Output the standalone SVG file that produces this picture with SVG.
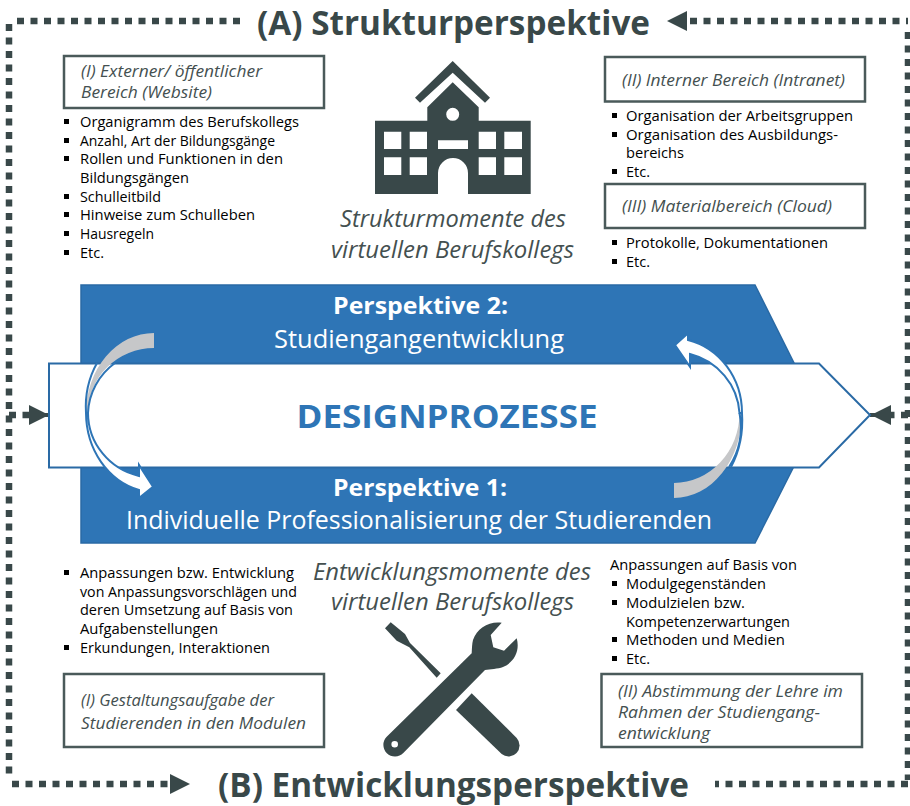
<svg xmlns="http://www.w3.org/2000/svg" width="910" height="806" viewBox="0 0 910 806">
<style>
text{font-family:"Open Sans","Noto Sans","Liberation Sans",sans-serif}
.t{font-size:34px;font-weight:700;fill:#394849}
.b{font-size:14.5px;fill:#000}
.i{font-size:16.5px;font-style:italic;fill:#445050}
.m{font-size:23px;font-style:italic;fill:#445050}
.w{font-size:23px;font-weight:700;fill:#fff}
.r{font-size:25.5px;fill:#fff}
.box{fill:#fff;stroke:#4a5a5a;stroke-width:2.5}
.d{fill:none;stroke:#394849;stroke-width:6.5;stroke-dasharray:7 6.5}
.h{fill:#394849}
.sq{fill:#000}
</style>
<g id="connectors">
<path class="d" d="M240 21H12"/>
<path class="d" d="M9 24V780"/>
<path class="d" d="M12 784H172"/>
<path class="d" d="M690 21H908"/>
<path class="d" d="M908 32V780"/>
<path class="d" d="M908 784H715"/>
<path class="h" d="M667 21L687 11V31Z"/>
<path class="h" d="M190 784L170 774V794Z"/>
<path class="d" d="M9 415H30"/>
<path class="h" d="M29 405L45 413H49V417H45L29 425Z"/>
<path class="d" d="M908 415H888"/>
<path class="h" d="M891 405L875 413H870V417H875L891 425Z"/>
</g>
<g id="title-a"><text class="t" x="257" y="35" textLength="393" lengthAdjust="spacingAndGlyphs">(A) Strukturperspektive</text></g>
<g id="title-b"><text class="t" x="218" y="797" textLength="471" lengthAdjust="spacingAndGlyphs">(B) Entwicklungsperspektive</text></g>

<g id="box-1"><rect class="box" x="64" y="56" width="260" height="52"/>
<text class="i" x="81" y="77" textLength="181" lengthAdjust="spacingAndGlyphs">(I) Externer/ öffentlicher</text>
<text class="i" x="81" y="98" textLength="131" lengthAdjust="spacingAndGlyphs">Bereich (Website)</text></g>
<g id="list-1">
<rect class="sq" x="64" y="119" width="5" height="5"/><text class="b" x="80" y="127" textLength="219" lengthAdjust="spacingAndGlyphs">Organigramm des Berufskollegs</text>
<rect class="sq" x="64" y="138" width="5" height="5"/><text class="b" x="80" y="146" textLength="195" lengthAdjust="spacingAndGlyphs">Anzahl, Art der Bildungsgänge</text>
<rect class="sq" x="64" y="156" width="5" height="5"/><text class="b" x="80" y="164" textLength="203" lengthAdjust="spacingAndGlyphs">Rollen und Funktionen in den</text>
<text class="b" x="80" y="183" textLength="109" lengthAdjust="spacingAndGlyphs">Bildungsgängen</text>
<rect class="sq" x="64" y="194" width="5" height="5"/><text class="b" x="80" y="202" textLength="81" lengthAdjust="spacingAndGlyphs">Schulleitbild</text>
<rect class="sq" x="64" y="212" width="5" height="5"/><text class="b" x="80" y="220" textLength="175" lengthAdjust="spacingAndGlyphs">Hinweise zum Schulleben</text>
<rect class="sq" x="64" y="231" width="5" height="5"/><text class="b" x="80" y="239" textLength="74" lengthAdjust="spacingAndGlyphs">Hausregeln</text>
<rect class="sq" x="64" y="250" width="5" height="5"/><text class="b" x="80" y="258" textLength="24" lengthAdjust="spacingAndGlyphs">Etc.</text>
</g>

<g id="box-2"><rect class="box" x="605" y="57" width="260" height="44.5"/>
<text class="i" x="622" y="86" textLength="223" lengthAdjust="spacingAndGlyphs">(II) Interner Bereich (Intranet)</text></g>
<g id="list-2">
<rect class="sq" x="612" y="113" width="5" height="5"/><text class="b" x="626" y="121" textLength="227" lengthAdjust="spacingAndGlyphs">Organisation der Arbeitsgruppen</text>
<rect class="sq" x="612" y="132" width="5" height="5"/><text class="b" x="626" y="140" textLength="212" lengthAdjust="spacingAndGlyphs">Organisation des Ausbildungs-</text>
<text class="b" x="626" y="158" textLength="58" lengthAdjust="spacingAndGlyphs">bereichs</text>
<rect class="sq" x="612" y="169" width="5" height="5"/><text class="b" x="626" y="177" textLength="24" lengthAdjust="spacingAndGlyphs">Etc.</text>
</g>
<g id="box-3"><rect class="box" x="605" y="184" width="260" height="44"/>
<text class="i" x="622" y="212" textLength="210" lengthAdjust="spacingAndGlyphs">(III) Materialbereich (Cloud)</text></g>
<g id="list-3">
<rect class="sq" x="612" y="240" width="5" height="5"/><text class="b" x="626" y="248" textLength="202" lengthAdjust="spacingAndGlyphs">Protokolle, Dokumentationen</text>
<rect class="sq" x="612" y="259" width="5" height="5"/><text class="b" x="626" y="267" textLength="24" lengthAdjust="spacingAndGlyphs">Etc.</text>
</g>

<g id="school-icon">
<path class="h" d="M452.7 61L490 97.7L485 102.7L452.7 72.7L420 102.7L415 97.7Z"/>
<path class="h" fill-rule="evenodd" d="M452.7 82.3L478.7 107.3V120.7H530.7V194H468V173A15 15 0 0 0 438 173V194H375V120.7H427.3V107.3Z
M384 131.7h17.3v17.3h-17.3Z M409.7 131.7h17.3v17.3h-17.3Z M478.7 131.7h17.3v17.3h-17.3Z M504.3 131.7h17.7v17.3h-17.7Z
M384 157.3h17.3v17.7h-17.3Z M409.7 157.3h17.3v17.7h-17.3Z M478.7 157.3h17.3v17.7h-17.3Z M504.3 157.3h17.7v17.7h-17.7Z
M438 140.3h30v8.7h-30Z M459.2 114.3a6.5 6.5 0 1 0 -13 0a6.5 6.5 0 1 0 13 0Z"/>
</g>
<g id="struktur-label">
<text class="m" x="340" y="227" textLength="226" lengthAdjust="spacingAndGlyphs">Strukturmomente des</text>
<text class="m" x="331" y="258" textLength="243" lengthAdjust="spacingAndGlyphs">virtuellen Berufskollegs</text>
</g>

<g id="band-blue">
<path d="M81 285H755L820 415L755 543H81Z" fill="#2e75b6" stroke="#2a6aa5" stroke-width="1.5"/>
<text class="w" x="333" y="314" textLength="175" lengthAdjust="spacingAndGlyphs">Perspektive 2:</text>
<text class="r" x="274" y="348" textLength="290" lengthAdjust="spacingAndGlyphs">Studiengangentwicklung</text>
<text class="w" x="333" y="496" textLength="174" lengthAdjust="spacingAndGlyphs">Perspektive 1:</text>
<text class="r" x="126" y="529" textLength="586" lengthAdjust="spacingAndGlyphs">Individuelle Professionalisierung der Studierenden</text>
</g>
<g id="band-white">
<path d="M49 363.5H819L870 415L819 467.5H49Z" fill="#fff" stroke="#2a6aa5" stroke-width="2"/>
<text x="447" y="428" text-anchor="middle" font-size="33" font-weight="700" fill="#2e75b6" textLength="301" lengthAdjust="spacingAndGlyphs">DESIGNPROZESSE</text>
</g>
<g id="arrow-left">
<path d="M154 333A68 80 0 0 0 86 413L88 413A66 65 0 0 1 154 348Z" fill="#c6c7c9"/>
<path d="M86 413A70 80 0 0 0 139 490V498L153 486.7L139 465V476A66 65 0 0 1 88 413Z" fill="#fff" stroke="#2e75b6" stroke-width="2"/>
<path d="M97 363A68 80 0 0 0 86 413M115 363A66 65 0 0 0 88 413" fill="none" stroke="#2e75b6" stroke-width="2"/>
</g>
<g id="arrow-right">
<path d="M674 498A68 85 0 0 0 742 413L739.5 413A66 70 0 0 1 674 483Z" fill="#c6c7c9"/>
<path d="M742 413A70 75 0 0 0 688 340V333.3L675 345L690 366.7V354A66 65 0 0 1 739.5 413Z" fill="#fff" stroke="#2e75b6" stroke-width="2"/>
<path d="M742 413A68 85 0 0 1 731 467M739.5 413A66 70 0 0 1 729 467" fill="none" stroke="#2e75b6" stroke-width="2"/>
</g>

<g id="list-4">
<rect class="sq" x="64" y="570" width="5" height="5"/><text class="b" x="80" y="578" textLength="214" lengthAdjust="spacingAndGlyphs">Anpassungen bzw. Entwicklung</text>
<text class="b" x="80" y="597" textLength="217" lengthAdjust="spacingAndGlyphs">von Anpassungsvorschlägen und</text>
<text class="b" x="80" y="615" textLength="213" lengthAdjust="spacingAndGlyphs">deren Umsetzung auf Basis von</text>
<text class="b" x="80" y="634" textLength="138" lengthAdjust="spacingAndGlyphs">Aufgabenstellungen</text>
<rect class="sq" x="64" y="645" width="5" height="5"/><text class="b" x="80" y="653" textLength="190" lengthAdjust="spacingAndGlyphs">Erkundungen, Interaktionen</text>
</g>
<g id="entwicklung-label">
<text class="m" x="313" y="580" textLength="278" lengthAdjust="spacingAndGlyphs">Entwicklungsmomente des</text>
<text class="m" x="331" y="610" textLength="243" lengthAdjust="spacingAndGlyphs">virtuellen Berufskollegs</text>
</g>
<g id="list-5">
<text class="b" x="610" y="570" textLength="187" lengthAdjust="spacingAndGlyphs">Anpassungen auf Basis von</text>
<rect class="sq" x="612" y="581" width="5" height="5"/><text class="b" x="626" y="589" textLength="140" lengthAdjust="spacingAndGlyphs">Modulgegenständen</text>
<rect class="sq" x="612" y="600" width="5" height="5"/><text class="b" x="626" y="608" textLength="119" lengthAdjust="spacingAndGlyphs">Modulzielen bzw.</text>
<text class="b" x="626" y="627" textLength="164" lengthAdjust="spacingAndGlyphs">Kompetenzerwartungen</text>
<rect class="sq" x="612" y="637" width="5" height="5"/><text class="b" x="626" y="645" textLength="159" lengthAdjust="spacingAndGlyphs">Methoden und Medien</text>
<rect class="sq" x="612" y="656" width="5" height="5"/><text class="b" x="626" y="664" textLength="24" lengthAdjust="spacingAndGlyphs">Etc.</text>
</g>
<g id="tools-icon">
<path class="h" d="M385 628.3L390.7 622.3L405 634L410 643L440.7 673.3L436.7 677.7L409.3 647.3L396.7 640.7Z"/>
<path class="h" d="M456 710L471.7 693.3L516.7 738A11 11 0 0 1 501.7 754Z"/>
<path class="h" fill-rule="evenodd" d="M501.7 622.7L490.7 635L493.3 647.3L504 650.7L516.7 638.3C520 650 515 662 503 667C498 669 490 669 485 670L403.3 753A11.5 11.5 0 0 1 386.7 736.7L471.7 653.3C472 648 472 644 473 640C477 628 489 621 501.7 622.7Z
M398 744.3a3.3 3.3 0 1 0 -6.6 0a3.3 3.3 0 1 0 6.6 0Z"/>
</g>
<g id="box-4"><rect class="box" x="64" y="674" width="260" height="73"/>
<text class="i" x="81" y="706" textLength="193" lengthAdjust="spacingAndGlyphs">(I) Gestaltungsaufgabe der</text>
<text class="i" x="81" y="729" textLength="225" lengthAdjust="spacingAndGlyphs">Studierenden in den Modulen</text></g>
<g id="box-5"><rect class="box" x="601.5" y="674" width="260.5" height="73"/>
<text class="i" x="618" y="697" textLength="225" lengthAdjust="spacingAndGlyphs">(II) Abstimmung der Lehre im</text>
<text class="i" x="618" y="718" textLength="202" lengthAdjust="spacingAndGlyphs">Rahmen der Studiengang-</text>
<text class="i" x="618" y="739" textLength="92" lengthAdjust="spacingAndGlyphs">entwicklung</text></g>
</svg>
